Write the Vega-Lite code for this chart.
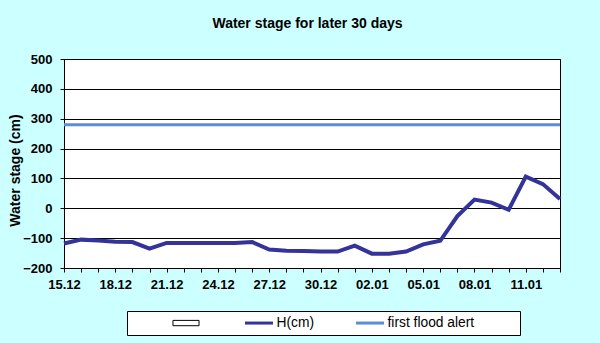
{
  "$schema": "https://vega.github.io/schema/vega-lite/v6.json",
  "width": 496,
  "height": 209,
  "autosize": "none",
  "padding": {"left": 64, "top": 59, "right": 40, "bottom": 75},
  "background": "#CCFFFF",
  "title": {
    "text": "Water stage for later 30 days",
    "fontSize": 14,
    "fontWeight": "bold",
    "font": "Liberation Sans",
    "color": "#000000",
    "anchor": "middle",
    "dx": -4.5,
    "baseline": "alphabetic",
    "offset": 11
  },
  "config": {
    "font": "Liberation Sans",
    "view": {"fill": "white", "stroke": "black", "strokeWidth": 1}
  },
  "data": {
    "values": [
      {"series": "first flood alert", "value": 280},
      {"series": "H(cm)", "date": "2023-12-15T00:00:00", "value": -118},
      {"series": "H(cm)", "date": "2023-12-16T00:00:00", "value": -105},
      {"series": "H(cm)", "date": "2023-12-17T00:00:00", "value": -108},
      {"series": "H(cm)", "date": "2023-12-18T00:00:00", "value": -112},
      {"series": "H(cm)", "date": "2023-12-19T00:00:00", "value": -113},
      {"series": "H(cm)", "date": "2023-12-20T00:00:00", "value": -135},
      {"series": "H(cm)", "date": "2023-12-21T00:00:00", "value": -116},
      {"series": "H(cm)", "date": "2023-12-22T00:00:00", "value": -116},
      {"series": "H(cm)", "date": "2023-12-23T00:00:00", "value": -116},
      {"series": "H(cm)", "date": "2023-12-24T00:00:00", "value": -116},
      {"series": "H(cm)", "date": "2023-12-25T00:00:00", "value": -116},
      {"series": "H(cm)", "date": "2023-12-26T00:00:00", "value": -113},
      {"series": "H(cm)", "date": "2023-12-27T00:00:00", "value": -138},
      {"series": "H(cm)", "date": "2023-12-28T00:00:00", "value": -142},
      {"series": "H(cm)", "date": "2023-12-29T00:00:00", "value": -143},
      {"series": "H(cm)", "date": "2023-12-30T00:00:00", "value": -145},
      {"series": "H(cm)", "date": "2023-12-31T00:00:00", "value": -145},
      {"series": "H(cm)", "date": "2024-01-01T00:00:00", "value": -125},
      {"series": "H(cm)", "date": "2024-01-02T00:00:00", "value": -152},
      {"series": "H(cm)", "date": "2024-01-03T00:00:00", "value": -152},
      {"series": "H(cm)", "date": "2024-01-04T00:00:00", "value": -145},
      {"series": "H(cm)", "date": "2024-01-05T00:00:00", "value": -121},
      {"series": "H(cm)", "date": "2024-01-06T00:00:00", "value": -109},
      {"series": "H(cm)", "date": "2024-01-07T00:00:00", "value": -26},
      {"series": "H(cm)", "date": "2024-01-08T00:00:00", "value": 29},
      {"series": "H(cm)", "date": "2024-01-09T00:00:00", "value": 19},
      {"series": "H(cm)", "date": "2024-01-10T00:00:00", "value": -5},
      {"series": "H(cm)", "date": "2024-01-11T00:00:00", "value": 106},
      {"series": "H(cm)", "date": "2024-01-12T00:00:00", "value": 81},
      {"series": "H(cm)", "date": "2024-01-13T00:00:00", "value": 31}
    ]
  },
  "encoding": {
    "y": {
      "field": "value",
      "type": "quantitative",
      "scale": {"domain": [-200, 500], "nice": false, "zero": false},
      "axis": {
        "values": [-200, -100, 0, 100, 200, 300, 400, 500],
        "grid": true,
        "gridColor": "black",
        "gridOpacity": 1,
        "gridWidth": 1,
        "domainColor": "black",
        "tickColor": "black",
        "tickSize": 4,
        "labelFontSize": 13,
        "labelFontWeight": "bold",
        "labelColor": "black",
        "labelPadding": 8,
        "title": "Water stage (cm)",
        "titleFontSize": 14,
        "titleFontWeight": "bold",
        "titleColor": "black",
        "titleX": -42,
        "titleY": 111,
        "titleBaseline": "bottom"
      }
    },
    "color": {
      "field": "series",
      "type": "nominal",
      "scale": {
        "domain": [" ", "H(cm)", "first flood alert"],
        "range": ["#000000", "#333399", "#5B8ED6"]
      },
      "legend": {
        "title": " ",
        "orient": "none",
        "legendX": 63,
        "legendY": 252,
        "direction": "horizontal",
        "titleOrient": "left",
        "titlePadding": 40,
        "titleFontSize": 13.8,
        "fillColor": "white",
        "strokeColor": "black",
        "padding": 5,
        "labelFontSize": 13.8,
        "labelColor": "black",
        "labelOffset": 10.6,
        "symbolOffset": 7.1,
        "columnPadding": 35,
        "symbolSize": 784,
        "symbolType": "stroke",
        "symbolStrokeWidth": 3,
        "encode": {
          "symbols": {
            "update": {
              "shape": {"signal": "datum.value === ' ' ? 'M-0.93,-0.19H0.93V0.19H-0.93Z' : (datum.value === 'first flood alert' ? 'M-1,0H1M9.9,0' : 'stroke')"},
              "fill": {"signal": "datum.value === ' ' ? '#ffffff' : 'transparent'"},
              "strokeWidth": {"signal": "datum.value === ' ' ? 1 : 3"}
            }
          }
        }
      }
    }
  },
  "layer": [
    {
      "transform": [{"filter": "datum.series === 'first flood alert'"}],
      "mark": {"type": "rule", "strokeWidth": 3},
      "encoding": {}
    },
    {
      "transform": [{"filter": "datum.series === 'H(cm)'"}],
      "mark": {"type": "line", "strokeWidth": 4},
      "encoding": {
        "x": {
          "field": "date",
          "type": "temporal",
          "scale": {"nice": false},
          "axis": {
            "title": null,
            "grid": false,
            "domainColor": "black",
            "tickColor": "black",
            "tickSize": 4,
            "labelFontSize": 13,
            "labelFontWeight": "bold",
            "labelColor": "black",
            "labelPadding": 6,
            "tickCount": {"interval": "day", "step": 1},
            "labelOverlap": false,
            "labelFlush": false,
            "labelBound": false,
            "labelExpr": "(round((datum.value - datetime(2023, 11, 15)) / 86400000) % 3 === 0) ? timeFormat(datum.value, '%d.%m') : ''"
          }
        }
      }
    }
  ]
}
